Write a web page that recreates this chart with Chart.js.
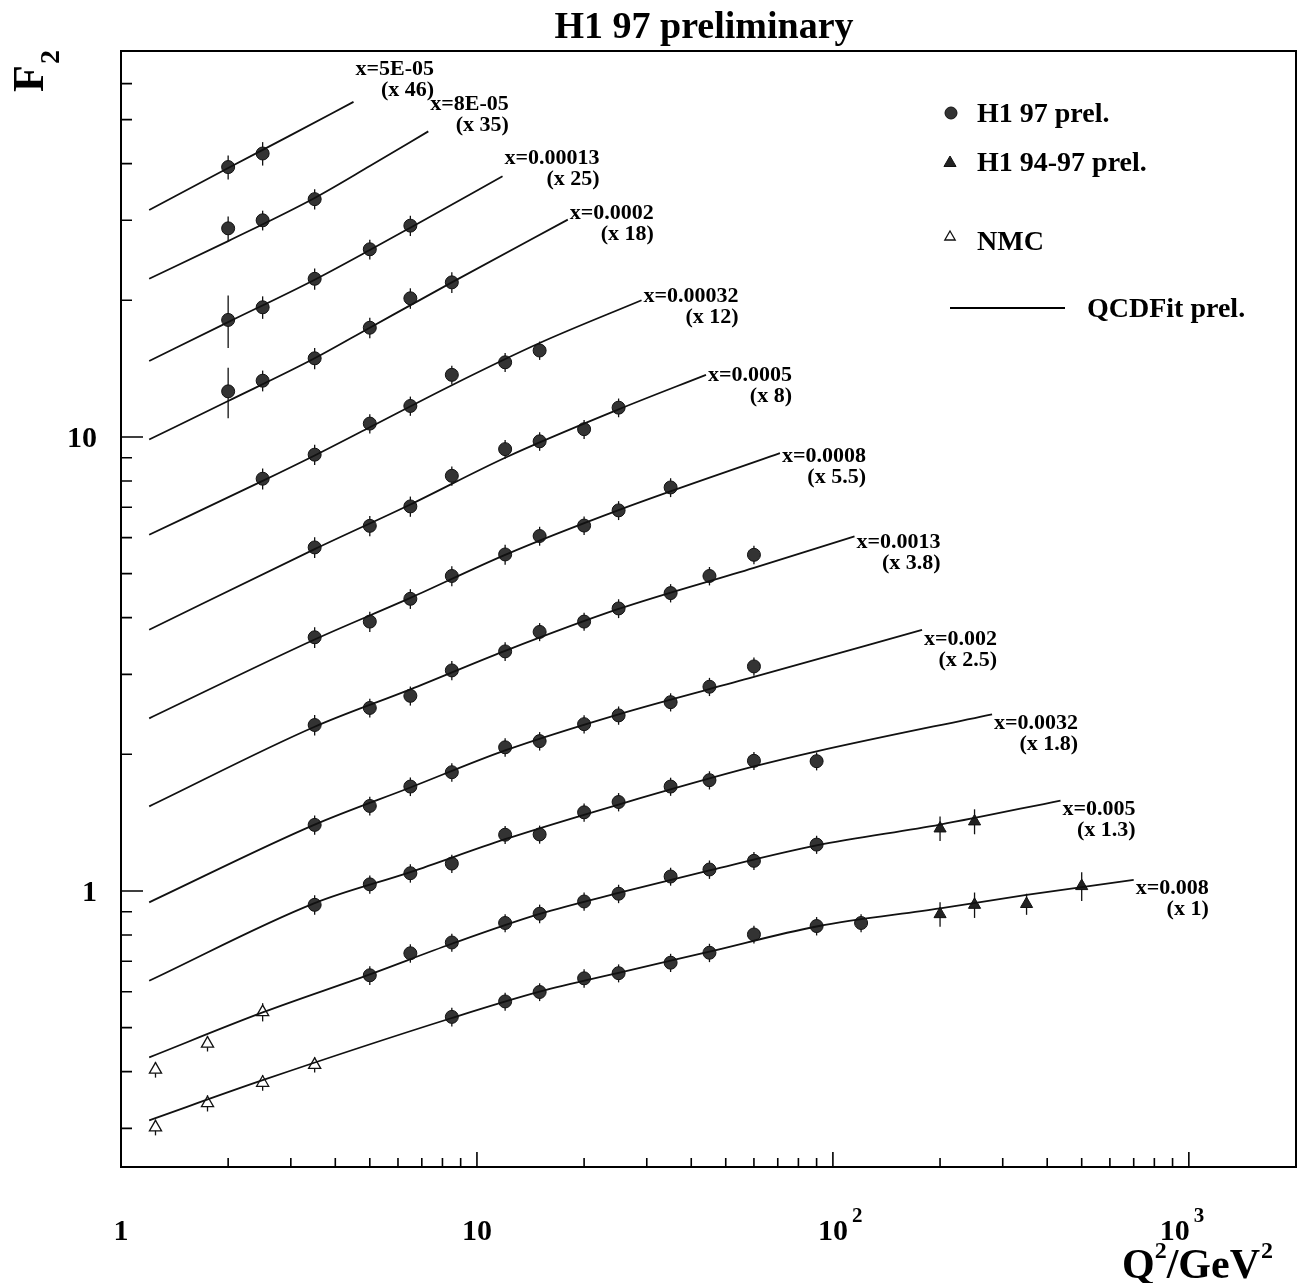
<!DOCTYPE html>
<html>
<head>
<meta charset="utf-8">
<title>H1 97 preliminary</title>
<script src="https://cdn.jsdelivr.net/npm/chart.js@4.4.1/dist/chart.umd.min.js"></script>
<style>
  html, body { margin: 0; padding: 0; background: #fff; }
  canvas { display: block; }
</style>
</head>
<body>
<canvas id="myChart" width="1312" height="1283"></canvas>
<script>
// x bins, top to bottom
const binLabels = ['x=5E-05', 'x=8E-05', 'x=0.00013', 'x=0.0002', 'x=0.00032', 'x=0.0005',
                   'x=0.0008', 'x=0.0013', 'x=0.002', 'x=0.0032', 'x=0.005', 'x=0.008'];
const binScales = ['(x 46)', '(x 35)', '(x 25)', '(x 18)', '(x 12)', '(x 8)',
                   '(x 5.5)', '(x 3.8)', '(x 2.5)', '(x 1.8)', '(x 1.3)', '(x 1)'];

// QCD fit curves
const fitQ2 = [
  [1.2, 2, 3, 4.5],
  [1.2, 2, 3.5, 5, 7.3],
  [1.2, 2, 3.5, 5, 6.5, 11.8],
  [1.2, 2, 3.5, 5, 8.5, 18],
  [1.2, 2.5, 3.5, 5, 8.5, 15, 29],
  [1.2, 3.5, 6.5, 12, 25, 44],
  [1.2, 3.5, 6.5, 12, 25, 71],
  [1.2, 3.5, 6.5, 12, 25, 60, 115],
  [1.2, 3.5, 6.5, 12, 25, 60, 178],
  [1.2, 3.5, 6.5, 12, 25, 60, 90, 280],
  [1.2, 2.5, 5, 8.5, 15, 25, 45, 90, 200, 436],
  [1.2, 2.5, 8.5, 15, 25, 45, 90, 200, 350, 700]
];
const fitF2 = [
  [31.6, 39.1, 46.2, 54.7],
  [22.3, 27.0, 33.6, 39.5, 47.1],
  [14.7, 17.9, 22.2, 25.8, 28.9, 37.5],
  [9.87, 12.0, 14.9, 17.4, 21.9, 30.1],
  [6.09, 8.0, 9.1, 10.5, 13.0, 16.1, 20.0],
  [3.76, 5.66, 7.1, 9.0, 11.5, 13.7],
  [2.40, 3.58, 4.42, 5.50, 6.90, 9.21],
  [1.536, 2.30, 2.78, 3.38, 4.18, 5.15, 6.04],
  [0.944, 1.40, 1.69, 2.04, 2.45, 2.96, 3.76],
  [0.634, 0.94, 1.10, 1.30, 1.55, 1.88, 2.03, 2.45],
  [0.43, 0.54, 0.655, 0.765, 0.89, 0.99, 1.11, 1.26, 1.40, 1.582],
  [0.3125, 0.383, 0.525, 0.60, 0.66, 0.735, 0.835, 0.915, 0.98, 1.058]
];

// H1 97 prel. (filled circles)
const h1Q2 = [
  [2, 2.5],
  [2, 2.5, 3.5],
  [2, 2.5, 3.5, 5, 6.5],
  [2, 2.5, 3.5, 5, 6.5, 8.5],
  [2.5, 3.5, 5, 6.5, 8.5, 12, 15],
  [3.5, 5, 6.5, 8.5, 12, 15, 20, 25],
  [3.5, 5, 6.5, 8.5, 12, 15, 20, 25, 35],
  [3.5, 5, 6.5, 8.5, 12, 15, 20, 25, 35, 45, 60],
  [3.5, 5, 6.5, 8.5, 12, 15, 20, 25, 35, 45, 60],
  [3.5, 5, 6.5, 8.5, 12, 15, 20, 25, 35, 45, 60, 90],
  [5, 6.5, 8.5, 12, 15, 20, 25, 35, 45, 60, 90],
  [8.5, 12, 15, 20, 25, 35, 45, 60, 90, 120]
];
const h1F2 = [
  [39.3, 42.1],
  [28.8, 30.0, 33.4],
  [18.1, 19.3, 22.3, 25.9, 29.2],
  [12.6, 13.3, 14.9, 17.4, 20.2, 21.9],
  [8.09, 9.14, 10.7, 11.7, 13.7, 14.6, 15.5],
  [5.71, 6.37, 7.03, 8.21, 9.40, 9.78, 10.4, 11.6],
  [3.62, 3.92, 4.40, 4.94, 5.51, 6.05, 6.38, 6.89, 7.74],
  [2.32, 2.53, 2.69, 3.06, 3.37, 3.72, 3.92, 4.19, 4.53, 4.94, 5.50],
  [1.398, 1.539, 1.698, 1.826, 2.072, 2.138, 2.33, 2.436, 2.605, 2.817, 3.123],
  [0.932, 1.034, 1.094, 1.149, 1.330, 1.332, 1.490, 1.570, 1.698, 1.754, 1.935, 1.931],
  [0.652, 0.729, 0.770, 0.850, 0.891, 0.948, 0.986, 1.076, 1.115, 1.165, 1.265],
  [0.528, 0.571, 0.599, 0.642, 0.659, 0.695, 0.731, 0.802, 0.837, 0.850]
];
const h1Err = [
  [2.4, 2.5],
  [1.8, 1.5, 1.7],
  [2.4, 1.1, 1.2, 1.3, 1.5],
  [1.6, 0.7, 0.8, 0.9, 1.05, 1.15],
  [0.43, 0.47, 0.52, 0.57, 0.65, 0.7, 0.72],
  [0.3, 0.33, 0.36, 0.4, 0.45, 0.46, 0.5, 0.55],
  [0.19, 0.2, 0.22, 0.25, 0.28, 0.29, 0.3, 0.33, 0.37],
  [0.12, 0.12, 0.13, 0.15, 0.16, 0.17, 0.18, 0.2, 0.21, 0.23, 0.26],
  [0.068, 0.073, 0.08, 0.085, 0.096, 0.1, 0.108, 0.113, 0.12, 0.13, 0.145],
  [0.046, 0.048, 0.051, 0.053, 0.061, 0.061, 0.069, 0.073, 0.078, 0.081, 0.088, 0.088],
  [0.031, 0.034, 0.035, 0.039, 0.042, 0.044, 0.046, 0.049, 0.052, 0.053, 0.058],
  [0.025, 0.026, 0.027, 0.03, 0.03, 0.032, 0.034, 0.036, 0.039, 0.039]
];

// H1 94-97 prel. (filled triangles), x=0.005 and x=0.008
const h194Q2 = [200, 250, 200, 250, 350, 500];
const h194F2 = [1.373, 1.423, 0.889, 0.932, 0.936, 1.025];
const h194Err = [0.085, 0.09, 0.055, 0.06, 0.05, 0.075];

// NMC (open triangles), x=0.005 and x=0.008
const nmcQ2 = [1.25, 1.75, 2.5, 1.25, 1.75, 2.5, 3.5];
const nmcF2 = [0.404, 0.461, 0.541, 0.3015, 0.3408, 0.378, 0.414];
const nmcErr = [0.016, 0.018, 0.025, 0.012, 0.014, 0.015, 0.016];

// axis ticks
const xMinorTicks = [2, 3, 4, 5, 6, 7, 8, 9, 20, 30, 40, 50, 60, 70, 80, 90,
                     200, 300, 400, 500, 600, 700, 800, 900];
const xMajorTicks = [10, 100, 1000];
const xTickLabels = [1, 10, 100, 1000];
const xTickExp = ['', '', '2', '3'];
const yMinorTicks = [0.3, 0.4, 0.5, 0.6, 0.7, 0.8, 0.9, 2, 3, 4, 5, 6, 7, 8, 9, 20, 30, 40, 50, 60];
const yMajorTicks = [1, 10];

function serif(size) {
  return 'bold ' + size + 'px "Liberation Serif", "Times New Roman", serif';
}

function drawMarker(c, style, x, y, r, fill, stroke, lw) {
  c.save();
  c.beginPath();
  if (style === 'circle') {
    c.arc(x, y, r, 0, Math.PI * 2);
  } else {
    let a = 0;
    c.moveTo(x + Math.sin(a) * r, y - Math.cos(a) * r);
    a += Math.PI * 2 / 3;
    c.lineTo(x + Math.sin(a) * r, y - Math.cos(a) * r);
    a += Math.PI * 2 / 3;
    c.lineTo(x + Math.sin(a) * r, y - Math.cos(a) * r);
    c.closePath();
  }
  c.fillStyle = fill;
  c.fill();
  c.lineWidth = lw;
  c.strokeStyle = stroke;
  c.stroke();
  c.restore();
}

const datasets = [];
fitQ2.forEach((qs, i) => {
  datasets.push({
    type: 'line',
    label: 'QCDFit ' + binLabels[i],
    data: qs.map((q, j) => ({ x: q, y: fitF2[i][j] })),
    borderColor: '#111',
    borderWidth: 1.8,
    pointRadius: 0,
    fill: false,
    cubicInterpolationMode: 'monotone'
  });
});

const h1Points = [];
h1Q2.forEach((qs, i) => qs.forEach((q, j) => {
  h1Points.push({ x: q, y: h1F2[i][j], err: h1Err[i][j] });
}));
datasets.push({
  label: 'H1 97 prel.',
  data: h1Points,
  errorBars: true,
  pointStyle: 'circle',
  pointRadius: 6.5,
  pointBackgroundColor: '#333',
  pointBorderColor: '#111',
  pointBorderWidth: 1
});
datasets.push({
  label: 'H1 94-97 prel.',
  data: h194Q2.map((q, j) => ({ x: q, y: h194F2[j], err: h194Err[j] })),
  errorBars: true,
  pointStyle: 'triangle',
  pointRadius: 7,
  pointBackgroundColor: '#222',
  pointBorderColor: '#111',
  pointBorderWidth: 1
});
datasets.push({
  label: 'NMC',
  data: nmcQ2.map((q, j) => ({ x: q, y: nmcF2[j], err: nmcErr[j] })),
  errorBars: true,
  pointStyle: 'triangle',
  pointRadius: 7,
  pointBackgroundColor: '#fff',
  pointBorderColor: '#111',
  pointBorderWidth: 1.3
});

const errorBarPlugin = {
  id: 'errorBars',
  beforeDatasetsDraw(chart) {
    const c = chart.ctx, ys = chart.scales.y;
    chart.data.datasets.forEach((ds, i) => {
      if (!ds.errorBars) return;
      const meta = chart.getDatasetMeta(i);
      c.save();
      c.strokeStyle = '#111';
      c.lineWidth = 1.3;
      meta.data.forEach((el, j) => {
        const p = ds.data[j];
        c.beginPath();
        c.moveTo(el.x, ys.getPixelForValue(p.y + p.err));
        c.lineTo(el.x, ys.getPixelForValue(p.y - p.err));
        c.stroke();
      });
      c.restore();
    });
  }
};

// offsets of the x-bin captions from the end of each curve
const captionDy = [-33, -27, -18, -6, -4, 0, 3, 6, 10, 9, 9, 8];

const decorPlugin = {
  id: 'decor',
  afterDraw(chart) {
    const c = chart.ctx;
    const a = chart.chartArea;
    const xs = chart.scales.x, ys = chart.scales.y;
    c.save();
    c.strokeStyle = '#000';
    c.fillStyle = '#000';

    // frame
    c.lineWidth = 2;
    c.strokeRect(a.left, a.top, a.right - a.left, a.bottom - a.top);

    // ticks, drawn inward
    c.lineWidth = 1.6;
    c.beginPath();
    yMinorTicks.forEach(v => {
      const y = ys.getPixelForValue(v);
      c.moveTo(a.left, y); c.lineTo(a.left + 11, y);
    });
    yMajorTicks.forEach(v => {
      const y = ys.getPixelForValue(v);
      c.moveTo(a.left, y); c.lineTo(a.left + 22, y);
    });
    xMinorTicks.forEach(v => {
      const x = xs.getPixelForValue(v);
      c.moveTo(x, a.bottom); c.lineTo(x, a.bottom - 9);
    });
    xMajorTicks.forEach(v => {
      const x = xs.getPixelForValue(v);
      c.moveTo(x, a.bottom); c.lineTo(x, a.bottom - 15);
    });
    c.stroke();

    // y tick labels
    c.font = serif(30);
    c.textAlign = 'right';
    c.textBaseline = 'alphabetic';
    yMajorTicks.forEach(v => {
      c.fillText(String(v), 97, ys.getPixelForValue(v) + 10);
    });

    // x tick labels
    xTickLabels.forEach((v, i) => {
      let x = xs.getPixelForValue(v);
      const base = v === 1 ? '1' : '10';
      if (v === 1000) x -= 14;
      c.font = serif(30);
      c.textAlign = 'center';
      c.fillText(base, x, 1240);
      if (xTickExp[i]) {
        const w = c.measureText(base).width;
        c.font = serif(21);
        c.textAlign = 'left';
        c.fillText(xTickExp[i], x + w / 2 + 4, 1222);
      }
    });

    // title
    c.font = serif(38);
    c.textAlign = 'center';
    c.fillText('H1 97 preliminary', 704, 38);

    // y axis title F2 (rotated)
    c.save();
    c.translate(43, 92);
    c.rotate(-Math.PI / 2);
    c.textAlign = 'left';
    c.font = serif(44);
    c.fillText('F', 0, 0);
    const fw = c.measureText('F').width;
    c.font = serif(28);
    c.fillText('2', fw + 1, 16);
    c.restore();

    // x axis title Q2/GeV2
    c.textAlign = 'left';
    let tx = 1122;
    c.font = serif(42);
    c.fillText('Q', tx, 1278);
    tx += c.measureText('Q').width;
    c.font = serif(24);
    c.fillText('2', tx, 1258);
    tx += c.measureText('2').width;
    c.font = serif(42);
    c.fillText('/GeV', tx, 1278);
    tx += c.measureText('/GeV').width;
    c.font = serif(24);
    c.fillText('2', tx + 1, 1258);

    // captions of the x bins at the end of each curve
    c.font = serif(22);
    c.textBaseline = 'middle';
    fitQ2.forEach((qs, i) => {
      const last = qs.length - 1;
      const px = xs.getPixelForValue(qs[last]) + 2;
      const py = ys.getPixelForValue(fitF2[i][last]) + captionDy[i];
      c.textAlign = 'left';
      c.fillText(binLabels[i], px, py);
      const w = c.measureText(binLabels[i]).width;
      c.textAlign = 'right';
      c.fillText(binScales[i], px + w, py + 21);
    });

    // legend
    c.textAlign = 'left';
    c.textBaseline = 'alphabetic';
    c.font = serif(28);
    drawMarker(c, 'circle', 951, 113, 6, '#333', '#111', 1);
    c.fillText('H1 97 prel.', 977, 122);
    drawMarker(c, 'triangle', 950, 163, 7, '#222', '#111', 1);
    c.fillText('H1 94-97 prel.', 977, 171);
    drawMarker(c, 'triangle', 950, 237, 6, '#fff', '#111', 1.3);
    c.fillText('NMC', 977, 250);
    c.lineWidth = 1.8;
    c.beginPath();
    c.moveTo(950, 308); c.lineTo(1065, 308);
    c.stroke();
    c.fillText('QCDFit prel.', 1087, 317);

    c.restore();
  }
};

const ctx = document.getElementById('myChart');

new Chart(ctx, {
  type: 'scatter',
  data: { datasets: datasets },
  options: {
    responsive: false,
    animation: false,
    events: [],
    layout: { padding: { left: 0, top: 51, right: 16, bottom: 0 } },
    scales: {
      x: {
        type: 'logarithmic',
        min: 1,
        max: 2000,
        grid: { display: false },
        border: { display: false },
        ticks: { display: false },
        afterFit: (scale) => { scale.height = 1283 - 1167; }
      },
      y: {
        type: 'logarithmic',
        min: 0.2466,
        max: 70.8,
        grid: { display: false },
        border: { display: false },
        ticks: { display: false },
        afterFit: (scale) => { scale.width = 121; }
      }
    },
    plugins: {
      legend: { display: false },
      tooltip: { enabled: false }
    }
  },
  plugins: [errorBarPlugin, decorPlugin]
});
</script>
</body>
</html>
